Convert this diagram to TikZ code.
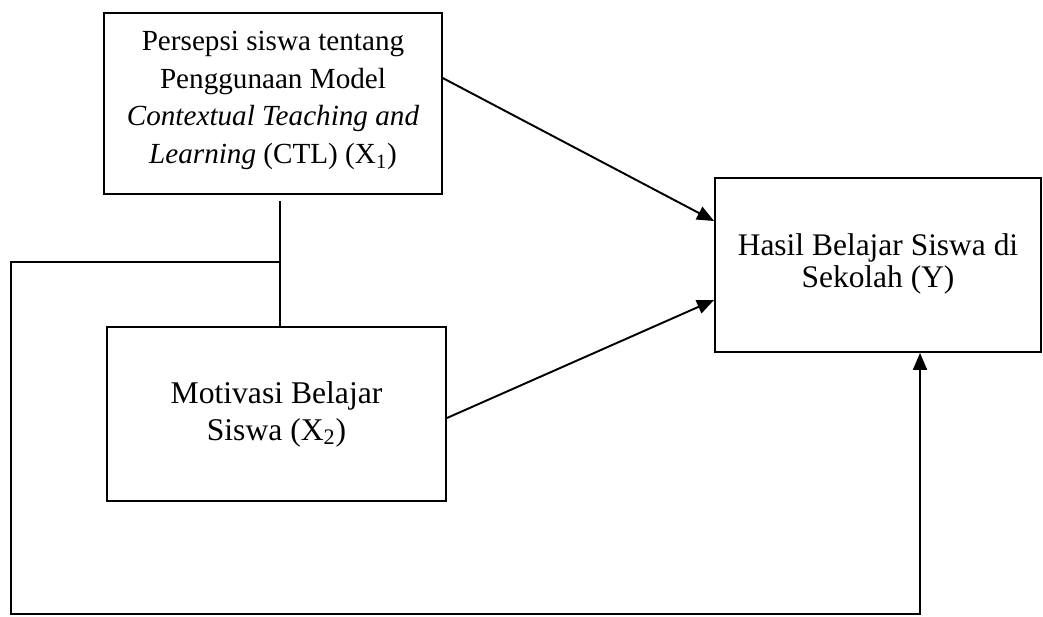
\documentclass[tikz,border=0pt]{standalone}
\usepackage{fontspec}
\setmainfont{Liberation Serif}
\usepackage{tikz}
\usetikzlibrary{arrows.meta, positioning, calc}

\begin{document}
\begin{tikzpicture}[
    x=0.02cm, y=-0.02cm,
    box/.style={
      rectangle, draw=black, line width=1.1pt,
      align=center, inner sep=4pt
    },
    arrow/.style={-{Triangle[length=0.34cm, width=0.28cm]}, line width=1.1pt},
    link/.style={line width=1.1pt}
  ]
  \useasboundingbox (0,0) rectangle (1043,617);

  % Variables
  \node[box, minimum width=6.75cm, minimum height=3.62cm, text depth=7pt,
        font=\fontsize{16.6}{21.5}\selectfont] (x1) at (273,103.5)
        {Persepsi siswa tentang\\Penggunaan Model\\\textit{Contextual Teaching and}\\
         \textit{Learning} (CTL) (X\textsubscript{1})};
  \node[box, minimum width=6.78cm, minimum height=3.48cm,
        font=\fontsize{18}{21}\selectfont] (x2) at (276.5,414)
        {Motivasi Belajar\\Siswa (X\textsubscript{2})};
  \node[box, minimum width=6.52cm, minimum height=3.48cm, text depth=5pt,
        font=\fontsize{17.9}{18.5}\selectfont] (y) at (878,265)
        {Hasil Belajar Siswa di\\Sekolah (Y)};

  % Loop points
  \coordinate (jn) at (280,262);
  \coordinate (bl) at (11,614);
  \coordinate (br) at (920,614);

  % Link X1 -- X2
  \draw[link] ([yshift=-0.12cm]x1.south -| jn) -- (x2.north -| jn);

  % Arrows to Y
  \draw[arrow] ([yshift=0.51cm]x1.east) -- ([yshift=0.88cm]y.west);
  \draw[arrow] ([yshift=-0.08cm]x2.east) -- ([yshift=-0.70cm]y.west);

  % Joint path to Y
  \draw[arrow] (jn) -| (bl) -- (br) -- (br |- y.south);

\end{tikzpicture}
\end{document}
